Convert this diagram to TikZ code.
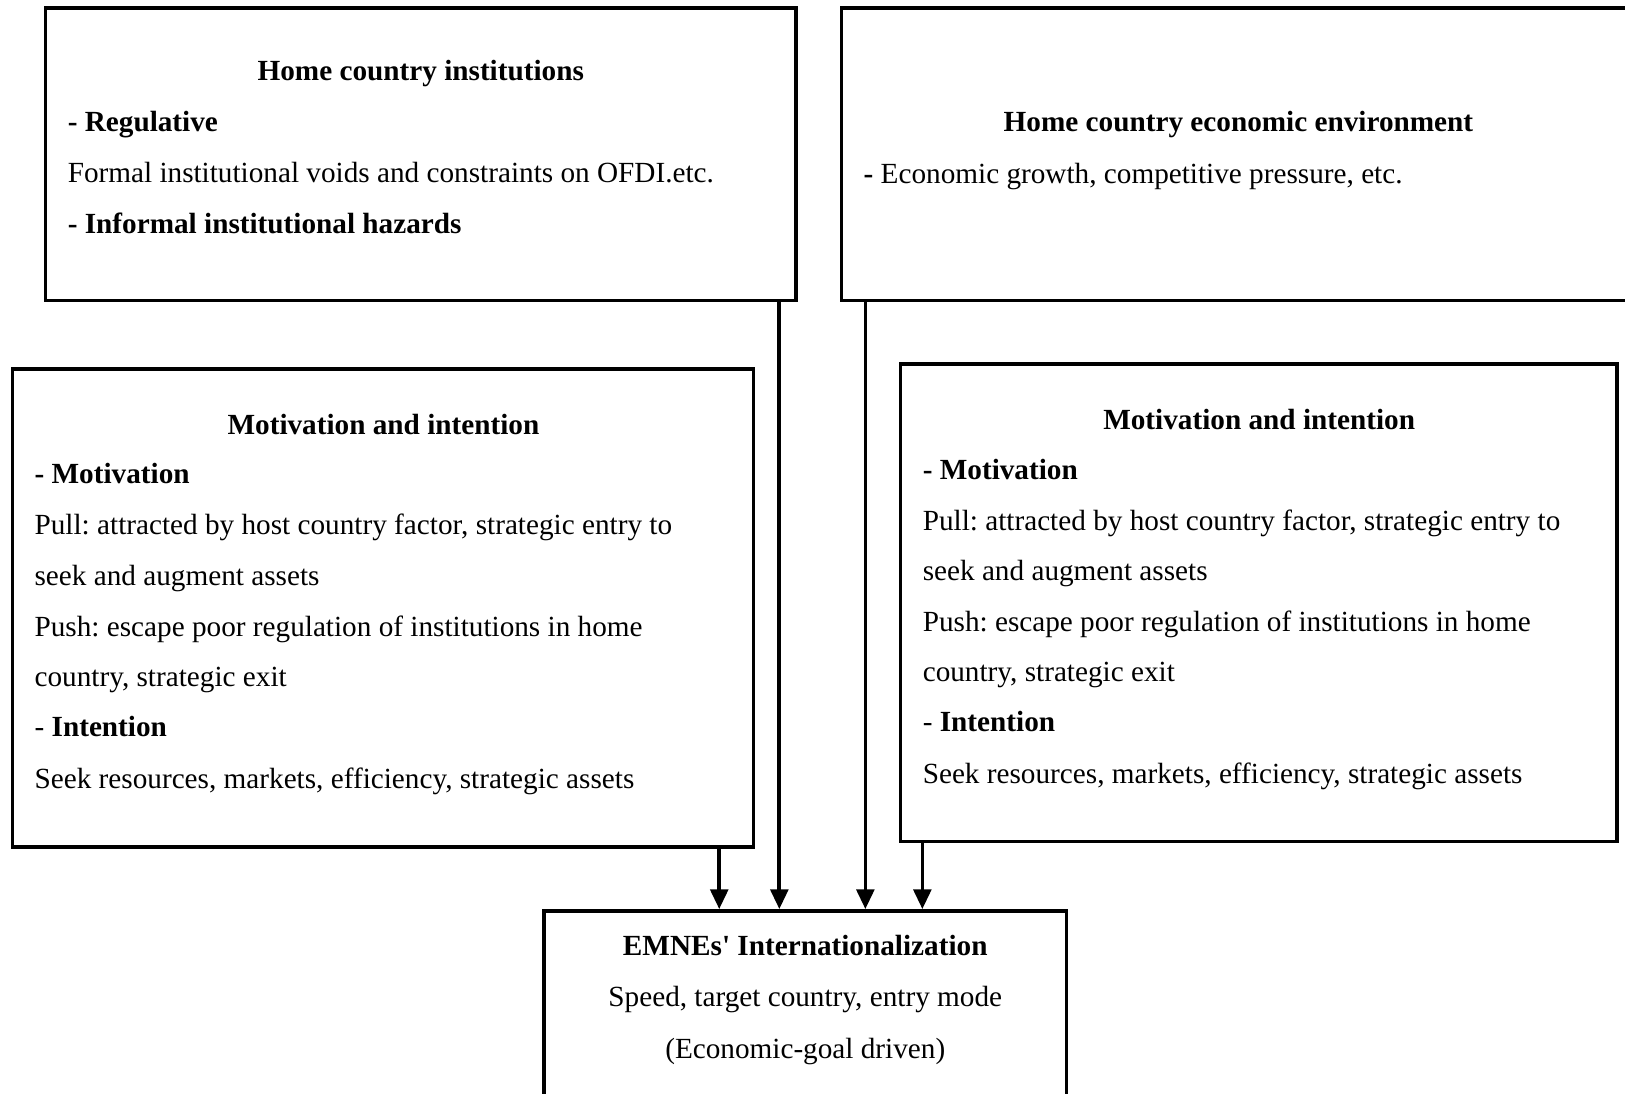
\documentclass[tikz,border=0pt]{standalone}
\usepackage{fontspec}
\setmainfont{Liberation Serif}
\usetikzlibrary{arrows.meta,fit}
\frenchspacing
\begin{document}
\begin{tikzpicture}[x=0.5pt,y=-0.5pt,
  box/.style={draw=black,line width=1.8pt,inner sep=0pt},
  txt/.style={inner sep=0pt,anchor=base west,font=\fontsize{14.1}{17}\selectfont},
  ttl/.style={txt,anchor=base,font=\fontsize{14.1}{17}\selectfont\bfseries},
  arr/.style={line width=1.8pt,-{Triangle[length=9.5pt,width=8.5pt]}}]
\clip (0,0) rectangle (1568,1055);
\fill[white] (0,0) rectangle (1568,1055);

% boxes
\node[box,fit={(44,8) (768,290)}] (inst) {};
\node[box,fit={(812,8) (1578,290)}] (econ) {};
\node[box,fit={(12,356) (727,817)}] (motL) {};
\node[box,fit={(869,351) (1560,812)}] (motR) {};
\node[box,fit={(525,879) (1029,1075)}] (emne) {};

% home country institutions
\node[ttl] (instT) at (406,78) {Home country institutions};
\node[txt] (inst1) at (65,127) {\bfseries - Regulative};
\node[txt] (inst2) at (65,176) {Formal institutional voids and constraints on OFDI.etc.};
\node[txt] (inst3) at (65,225) {\bfseries - Informal institutional hazards};

% home country economic environment
\node[ttl] (econT) at (1195,127) {Home country economic environment};
\node[txt] (econ1) at (833,177) {\textbf{-} Economic growth, competitive pressure, etc.};

% motivation and intention (left)
\node[ttl] (motLT) at (370,419) {Motivation and intention};
\node[txt] (motL1) at (33,467) {\bfseries - Motivation};
\node[txt] (motL2) at (33,516) {Pull: attracted by host country factor, strategic entry to};
\node[txt] (motL3) at (33,565) {seek and augment assets};
\node[txt] (motL4) at (33,614) {Push: escape poor regulation of institutions in home};
\node[txt] (motL5) at (33,662) {country, strategic exit};
\node[txt] (motL6) at (33,711) {- \textbf{Intention}};
\node[txt] (motL7) at (33,761) {Seek resources, markets, efficiency, strategic assets};

% motivation and intention (right)
\node[ttl] (motRT) at (1215,414) {Motivation and intention};
\node[txt] (motR1) at (890,463) {\bfseries - Motivation};
\node[txt] (motR2) at (890,512) {Pull: attracted by host country factor, strategic entry to};
\node[txt] (motR3) at (890,560) {seek and augment assets};
\node[txt] (motR4) at (890,609) {Push: escape poor regulation of institutions in home};
\node[txt] (motR5) at (890,658) {country, strategic exit};
\node[txt] (motR6) at (890,706) {- \textbf{Intention}};
\node[txt] (motR7) at (890,756) {Seek resources, markets, efficiency, strategic assets};

% internationalization outcome
\node[ttl] (emneT) at (777,922) {EMNEs\textquotesingle{} Internationalization};
\node[txt,anchor=base] (emne1) at (777,971) {Speed, target country, entry mode};
\node[txt,anchor=base] (emne2) at (777,1021) {(Economic-goal driven)};

% connectors
\coordinate (c1) at (694,0);
\coordinate (c2) at (752,0);
\coordinate (c3) at (835,0);
\coordinate (c4) at (890,0);
\draw[arr] (motL.south -| c1) -- (emne.north -| c1);
\draw[arr] (inst.south -| c2) -- (emne.north -| c2);
\draw[arr] (econ.south -| c3) -- (emne.north -| c3);
\draw[arr] (motR.south -| c4) -- (emne.north -| c4);
\end{tikzpicture}
\end{document}
